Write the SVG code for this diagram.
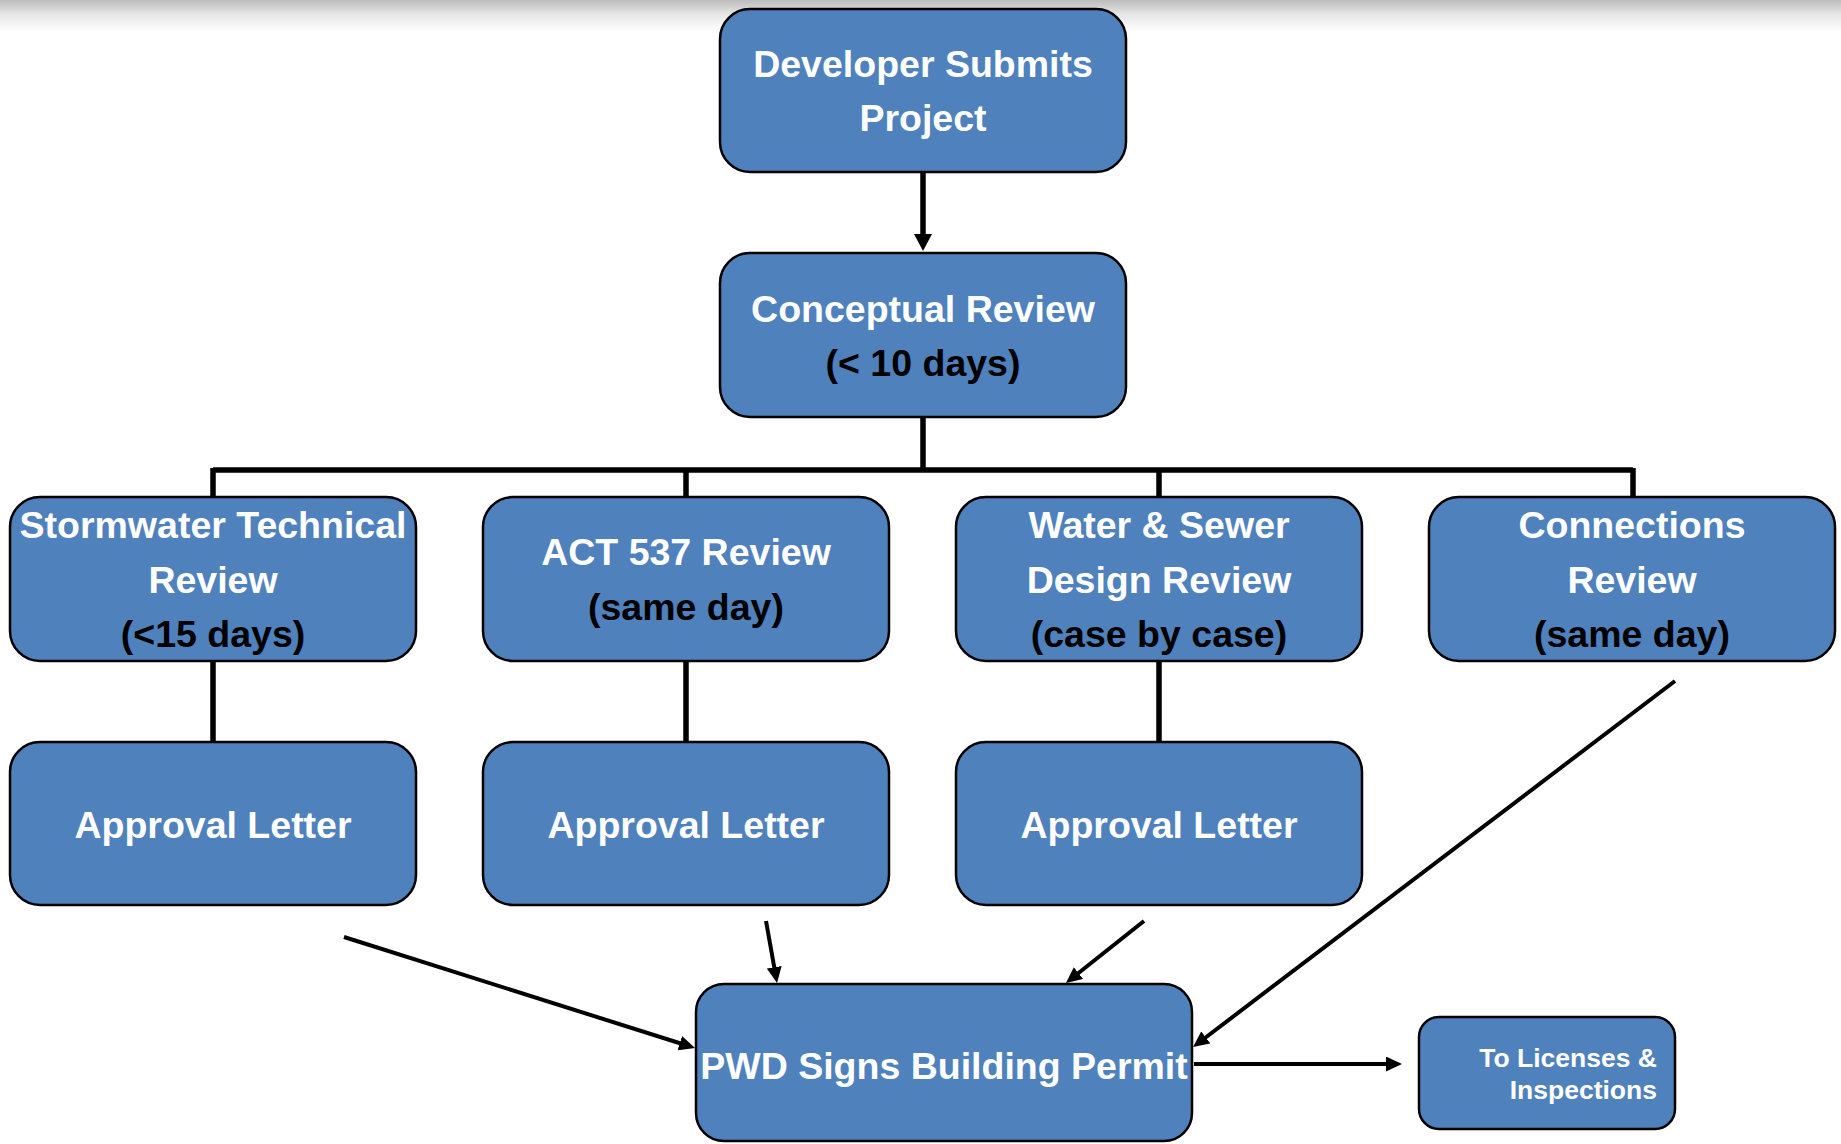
<svg xmlns="http://www.w3.org/2000/svg" width="1841" height="1144" viewBox="0 0 1841 1144">
  <defs>
    <linearGradient id="topShade" x1="0" y1="0" x2="0" y2="1">
      <stop offset="0" stop-color="#bcbcbc"/>
      <stop offset="0.45" stop-color="#e6e6e6"/>
      <stop offset="1" stop-color="#ffffff"/>
    </linearGradient>
    <marker id="head" markerUnits="userSpaceOnUse" viewBox="0 0 16 15" markerWidth="16" markerHeight="15" refX="6" refY="7.5" orient="auto">
      <path d="M0,0 L16,7.5 L0,15 z" fill="#000"/>
    </marker>
    <marker id="headBig" markerUnits="userSpaceOnUse" viewBox="0 0 17 18" markerWidth="17" markerHeight="18" refX="7" refY="9" orient="auto">
      <path d="M0,0 L17,9 L0,18 z" fill="#000"/>
    </marker>
  </defs>
  <style>
    .box { fill: #4f81bd; stroke: #000; stroke-width: 2.5; }
    .t { font-family: "Liberation Sans", Arial, sans-serif; font-weight: bold; font-size: 37.5px; text-anchor: middle; fill: #fff; }
    .k { fill: #000; }
    .small { font-size: 26.5px; text-anchor: end; }
    .tree { fill: none; stroke: #000; stroke-width: 5.5; }
    .arrow { fill: none; stroke: #000; stroke-width: 4; }
  </style>

  <rect x="0" y="0" width="1841" height="1144" fill="#fff"/>
  <rect x="0" y="0" width="1841" height="32" fill="url(#topShade)"/>

  <!-- connectors -->
  <g id="connectors">
    <line class="tree" x1="923" y1="172" x2="923" y2="241" marker-end="url(#headBig)"/>
    <path class="tree" d="M923,417 V470 M213,470 H1633 M213,468 V497 M686,468 V497 M1159,468 V497 M1633,468 V497"/>
    <path class="tree" d="M213,661 V742 M686,661 V742 M1159,661 V742"/>
    <line class="arrow" x1="344" y1="937" x2="685.5" y2="1045" marker-end="url(#head)"/>
    <line class="arrow" x1="766" y1="921" x2="775.3" y2="973.2" marker-end="url(#head)"/>
    <line class="arrow" x1="1144" y1="921" x2="1073.8" y2="976.8" marker-end="url(#head)"/>
    <line class="arrow" x1="1675" y1="681" x2="1201" y2="1041" marker-end="url(#head)"/>
    <line class="arrow" x1="1194" y1="1064" x2="1392" y2="1064" marker-end="url(#head)"/>
  </g>

  <g id="developer-submits">
    <rect class="box" x="720" y="9" width="406" height="163" rx="30"/>
    <text class="t" x="923" y="77">Developer Submits</text>
    <text class="t" x="923" y="131">Project</text>
  </g>

  <g id="conceptual-review">
    <rect class="box" x="720" y="253" width="406" height="164" rx="30"/>
    <text class="t" x="923" y="322">Conceptual Review</text>
    <text class="t k" x="923" y="376">(&lt; 10 days)</text>
  </g>

  <g id="stormwater-review">
    <rect class="box" x="10" y="497" width="406" height="164" rx="30"/>
    <text class="t" x="213" y="538">Stormwater Technical</text>
    <text class="t" x="213" y="593">Review</text>
    <text class="t k" x="213" y="647">(&lt;15 days)</text>
  </g>

  <g id="act537-review">
    <rect class="box" x="483" y="497" width="406" height="164" rx="30"/>
    <text class="t" x="686" y="565">ACT 537 Review</text>
    <text class="t k" x="686" y="620">(same day)</text>
  </g>

  <g id="water-sewer-review">
    <rect class="box" x="956" y="497" width="406" height="164" rx="30"/>
    <text class="t" x="1159" y="538">Water &amp; Sewer</text>
    <text class="t" x="1159" y="593">Design Review</text>
    <text class="t k" x="1159" y="647">(case by case)</text>
  </g>

  <g id="connections-review">
    <rect class="box" x="1429" y="497" width="406" height="164" rx="30"/>
    <text class="t" x="1632" y="538">Connections</text>
    <text class="t" x="1632" y="593">Review</text>
    <text class="t k" x="1632" y="647">(same day)</text>
  </g>

  <g id="approval-stormwater">
    <rect class="box" x="10" y="742" width="406" height="163" rx="30"/>
    <text class="t" x="213" y="838">Approval Letter</text>
  </g>

  <g id="approval-act537">
    <rect class="box" x="483" y="742" width="406" height="163" rx="30"/>
    <text class="t" x="686" y="838">Approval Letter</text>
  </g>

  <g id="approval-water-sewer">
    <rect class="box" x="956" y="742" width="406" height="163" rx="30"/>
    <text class="t" x="1159" y="838">Approval Letter</text>
  </g>

  <g id="building-permit">
    <rect class="box" x="696" y="984" width="496" height="157" rx="28"/>
    <text class="t" x="944" y="1079">PWD Signs Building Permit</text>
  </g>

  <g id="licenses-inspections">
    <rect class="box" x="1419" y="1017" width="256" height="112" rx="20"/>
    <text class="t small" x="1657" y="1067">To Licenses &amp;</text>
    <text class="t small" x="1657" y="1099">Inspections</text>
  </g>
</svg>
